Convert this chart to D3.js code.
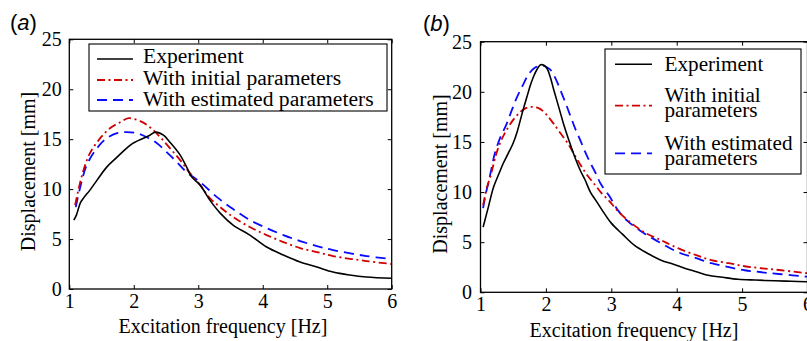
<!DOCTYPE html>
<html>
<head>
<meta charset="utf-8">
<script src="https://cdn.jsdelivr.net/npm/d3@7"></script>
<style>
  html, body { margin: 0; padding: 0; background: #fff; }
  svg { display: block; }
  text { font-family: "Liberation Serif", "Times New Roman", serif; fill: #000; }
</style>
</head>
<body>
<svg id="chart" width="807" height="341"></svg>
<script>
// ---------- data ----------
const xTicks = [1, 2, 3, 4, 5, 6];
const yTicks = [0, 5, 10, 15, 20, 25];
const seriesNames = ["Experiment", "With initial parameters", "With estimated parameters"];

// Panel (a)
const aExpX = [1.07, 1.11, 1.17, 1.22, 1.32, 1.43, 1.58, 1.74, 1.89, 1.99, 2.15, 2.25, 2.33, 2.46, 2.56, 2.72, 2.82, 2.90, 3.03, 3.18, 3.34, 3.54, 3.80, 4.06, 4.32, 4.58, 4.84, 5.09, 5.35, 5.61, 6.0];
const aExpY = [6.9, 7.4, 8.6, 9.1, 9.9, 10.9, 12.2, 13.2, 14.1, 14.6, 15.1, 15.4, 15.7, 15.4, 14.7, 13.4, 12.2, 11.2, 10.4, 8.9, 7.6, 6.4, 5.4, 4.2, 3.4, 2.7, 2.2, 1.7, 1.4, 1.2, 1.07];
const aIniX = [1.09, 1.14, 1.22, 1.32, 1.48, 1.63, 1.79, 1.92, 2.10, 2.25, 2.41, 2.56, 2.72, 2.87, 3.03, 3.18, 3.34, 3.54, 3.80, 4.06, 4.32, 4.58, 4.84, 5.09, 5.61, 6.0];
const aIniY = [8.4, 9.9, 11.9, 13.6, 15.1, 16.1, 16.7, 17.1, 16.8, 16.2, 15.2, 14.1, 12.9, 11.6, 10.4, 9.1, 8.2, 7.2, 6.2, 5.4, 4.7, 4.1, 3.7, 3.3, 2.8, 2.5];
const aEstX = [1.10, 1.17, 1.27, 1.43, 1.58, 1.74, 1.89, 2.05, 2.20, 2.36, 2.51, 2.67, 2.82, 3.03, 3.29, 3.54, 3.80, 4.06, 4.32, 4.58, 4.84, 5.09, 5.61, 6.0];
const aEstY = [8.2, 10.2, 12.4, 14.1, 15.1, 15.6, 15.7, 15.6, 15.2, 14.6, 13.7, 12.7, 11.7, 10.7, 9.2, 8.0, 6.9, 6.1, 5.4, 4.8, 4.3, 3.9, 3.3, 3.0];

// Panel (b)
const bExpX = [1.04, 1.08, 1.12, 1.20, 1.28, 1.35, 1.42, 1.50, 1.56, 1.61, 1.66, 1.71, 1.76, 1.81, 1.87, 1.92, 1.97, 2.02, 2.07, 2.12, 2.20, 2.27, 2.35, 2.43, 2.53, 2.60, 2.68, 2.76, 2.84, 3.00, 3.17, 3.35, 3.55, 3.76, 3.95, 4.12, 4.30, 4.48, 4.70, 4.94, 5.20, 5.50, 5.75, 6.0];
const bExpY = [6.5, 7.5, 8.5, 10.5, 11.8, 12.9, 13.8, 14.9, 16.0, 17.2, 18.4, 19.5, 20.6, 21.5, 22.3, 22.7, 22.65, 22.3, 21.4, 20.2, 18.4, 16.8, 15.2, 13.7, 12.1, 11.2, 10.0, 9.2, 8.4, 6.9, 5.8, 4.7, 3.9, 3.2, 2.8, 2.4, 2.05, 1.7, 1.5, 1.3, 1.22, 1.15, 1.1, 1.05];
const bIniX = [1.04, 1.10, 1.15, 1.20, 1.25, 1.32, 1.40, 1.50, 1.61, 1.70, 1.79, 1.88, 1.97, 2.05, 2.12, 2.22, 2.33, 2.43, 2.53, 2.63, 2.74, 2.85, 2.97, 3.10, 3.25, 3.50, 3.76, 4.02, 4.30, 4.53, 4.80, 5.04, 5.30, 5.60, 6.0];
const bIniY = [8.7, 10.5, 11.5, 12.8, 14.0, 15.2, 16.2, 17.2, 18.0, 18.4, 18.5, 18.4, 18.0, 17.4, 16.8, 15.9, 14.9, 13.8, 12.7, 11.7, 10.8, 9.9, 9.1, 8.1, 7.2, 6.0, 5.2, 4.4, 3.7, 3.2, 2.9, 2.6, 2.4, 2.2, 1.9];
const bEstX = [1.04, 1.08, 1.12, 1.17, 1.22, 1.30, 1.40, 1.48, 1.56, 1.65, 1.74, 1.83, 1.92, 2.00, 2.07, 2.15, 2.22, 2.30, 2.38, 2.45, 2.53, 2.60, 2.68, 2.76, 2.84, 2.97, 3.10, 3.25, 3.50, 3.76, 4.02, 4.30, 4.53, 4.80, 5.04, 5.30, 5.60, 6.0];
const bEstY = [8.4, 9.8, 10.9, 12.4, 13.9, 15.4, 16.8, 18.2, 19.5, 20.7, 21.8, 22.4, 22.6, 22.5, 22.2, 21.3, 20.2, 18.9, 17.5, 16.3, 15.1, 14.0, 12.9, 11.9, 10.8, 9.6, 8.2, 7.1, 5.9, 4.9, 4.0, 3.4, 2.9, 2.5, 2.2, 2.0, 1.8, 1.55];

// ---------- styles ----------
const styles = [
  { color: "#000000", width: 1.6, dash: null },
  { color: "#d00000", width: 1.8, dash: "8,3.5,2,3.5" },
  { color: "#0a0aff", width: 1.8, dash: "10,6" }
];

const svg = d3.select("#chart");

function zip(xs, ys) { return xs.map((x, i) => [x, ys[i]]); }

function drawPanel(cfg) {
  const x = d3.scaleLinear().domain([1, 6]).range([cfg.left, cfg.right]);
  const y = d3.scaleLinear().domain([0, 25]).range([cfg.bottom, cfg.top]);
  const g = svg.append("g");

  const clipId = "clip" + cfg.id;
  svg.append("clipPath").attr("id", clipId).append("rect")
    .attr("x", cfg.left).attr("y", cfg.top)
    .attr("width", cfg.right - cfg.left).attr("height", cfg.bottom - cfg.top);

  // series
  const line = d3.line().x(d => x(d[0])).y(d => y(d[1])).curve(d3.curveCatmullRom.alpha(0.5));
  const order = [2, 1, 0];
  order.forEach(i => {
    const s = styles[i];
    g.append("path")
      .datum(cfg.series[i])
      .attr("clip-path", `url(#${clipId})`)
      .attr("fill", "none")
      .attr("stroke", s.color)
      .attr("stroke-width", s.width)
      .attr("stroke-dasharray", s.dash)
      .attr("stroke-linejoin", "round")
      .attr("d", line);
  });

  // axes (inward ticks on all four sides)
  const fs = "20px";
  const bx = g.append("g").attr("transform", `translate(0,${cfg.bottom})`)
    .call(d3.axisBottom(x).tickValues(xTicks).tickSize(-4).tickPadding(cfg.xPad).tickFormat(d3.format("d")));
  const tx = g.append("g").attr("transform", `translate(0,${cfg.top})`)
    .call(d3.axisTop(x).tickValues(xTicks).tickSize(-4).tickFormat(""));
  const ly = g.append("g").attr("transform", `translate(${cfg.left},0)`)
    .call(d3.axisLeft(y).tickValues(yTicks).tickSize(-4).tickPadding(cfg.yPad).tickFormat(d3.format("d")));
  const ry = g.append("g").attr("transform", `translate(${cfg.right},0)`)
    .call(d3.axisRight(y).tickValues(yTicks).tickSize(-4).tickFormat(""));
  [bx, tx, ly, ry].forEach(a => {
    a.select(".domain").remove();
    a.selectAll(".tick line").attr("stroke", "#000").attr("stroke-width", 1);
    a.selectAll("text").style("font-size", fs).style("font-family", '"Liberation Serif", "Times New Roman", serif').attr("fill", "#000");
  });

  // frame
  g.append("rect")
    .attr("x", cfg.left).attr("y", cfg.top)
    .attr("width", cfg.right - cfg.left).attr("height", cfg.bottom - cfg.top)
    .attr("fill", "none").attr("stroke", "#000").attr("stroke-width", 1.3);

  // axis titles
  g.append("text")
    .attr("x", cfg.xTitleX).attr("y", cfg.xTitleY)
    .attr("text-anchor", "middle").style("font-size", "20px")
    .text("Excitation frequency [Hz]");
  g.append("text")
    .attr("transform", `translate(${cfg.yTitleX},${cfg.yTitleY}) rotate(-90)`)
    .attr("text-anchor", "middle").style("font-size", "20px")
    .text("Displacement [mm]");

  // panel label
  const pl = g.append("text")
    .attr("x", cfg.labelX).attr("y", cfg.labelY)
    .style("font-family", '"Liberation Sans", Arial, sans-serif')
    .style("font-size", "22px");
  pl.append("tspan").text("(");
  pl.append("tspan").style("font-style", "italic").text(cfg.letter);
  pl.append("tspan").text(")");

  // legend
  const L = cfg.legend;
  g.append("rect")
    .attr("x", L.x).attr("y", L.y).attr("width", L.w).attr("height", L.h)
    .attr("fill", "#fff").attr("stroke", "#000").attr("stroke-width", 1.1);
  L.rows.forEach((r, i) => {
    const s = styles[i];
    g.append("line")
      .attr("x1", L.lx1).attr("x2", L.lx2).attr("y1", r.ly).attr("y2", r.ly)
      .attr("stroke", s.color).attr("stroke-width", s.width)
      .attr("stroke-dasharray", s.dash);
    r.lines.forEach((t, j) => {
      g.append("text")
        .attr("x", L.tx).attr("y", r.ty[j])
        .style("font-size", L.fs)
        .text(t);
    });
  });
}

drawPanel({
  id: "a", letter: "a",
  left: 69.3, right: 391.7, top: 39.3, bottom: 289,
  xPad: 5, yPad: 7.5,
  xTitleX: 223, xTitleY: 333,
  yTitleX: 35, yTitleY: 171.5,
  labelX: 10, labelY: 30,
  series: [zip(aExpX, aExpY), zip(aIniX, aIniY), zip(aEstX, aEstY)],
  legend: {
    x: 89, y: 44, w: 298, h: 67, fs: "21.6px",
    lx1: 97, lx2: 133, tx: 143,
    rows: [
      { ly: 59, lines: [seriesNames[0]], ty: [63.3] },
      { ly: 80, lines: [seriesNames[1]], ty: [85] },
      { ly: 100, lines: [seriesNames[2]], ty: [106] }
    ]
  }
});

drawPanel({
  id: "b", letter: "b",
  left: 480.5, right: 807.5, top: 41.7, bottom: 292.3,
  xPad: 5, yPad: 8.5,
  xTitleX: 634, xTitleY: 336.5,
  yTitleX: 446.7, yTitleY: 174,
  labelX: 423, labelY: 31,
  series: [zip(bExpX, bExpY), zip(bIniX, bIniY), zip(bEstX, bEstY)],
  legend: {
    x: 605, y: 49, w: 196, h: 125, fs: "21.2px",
    lx1: 615, lx2: 652, tx: 664.5,
    rows: [
      { ly: 64.3, lines: [seriesNames[0]], ty: [71] },
      { ly: 105.7, lines: ["With initial", "parameters"], ty: [101.7, 116.7] },
      { ly: 153.3, lines: ["With estimated", "parameters"], ty: [149.5, 164.5] }
    ]
  }
});
</script>
</body>
</html>
